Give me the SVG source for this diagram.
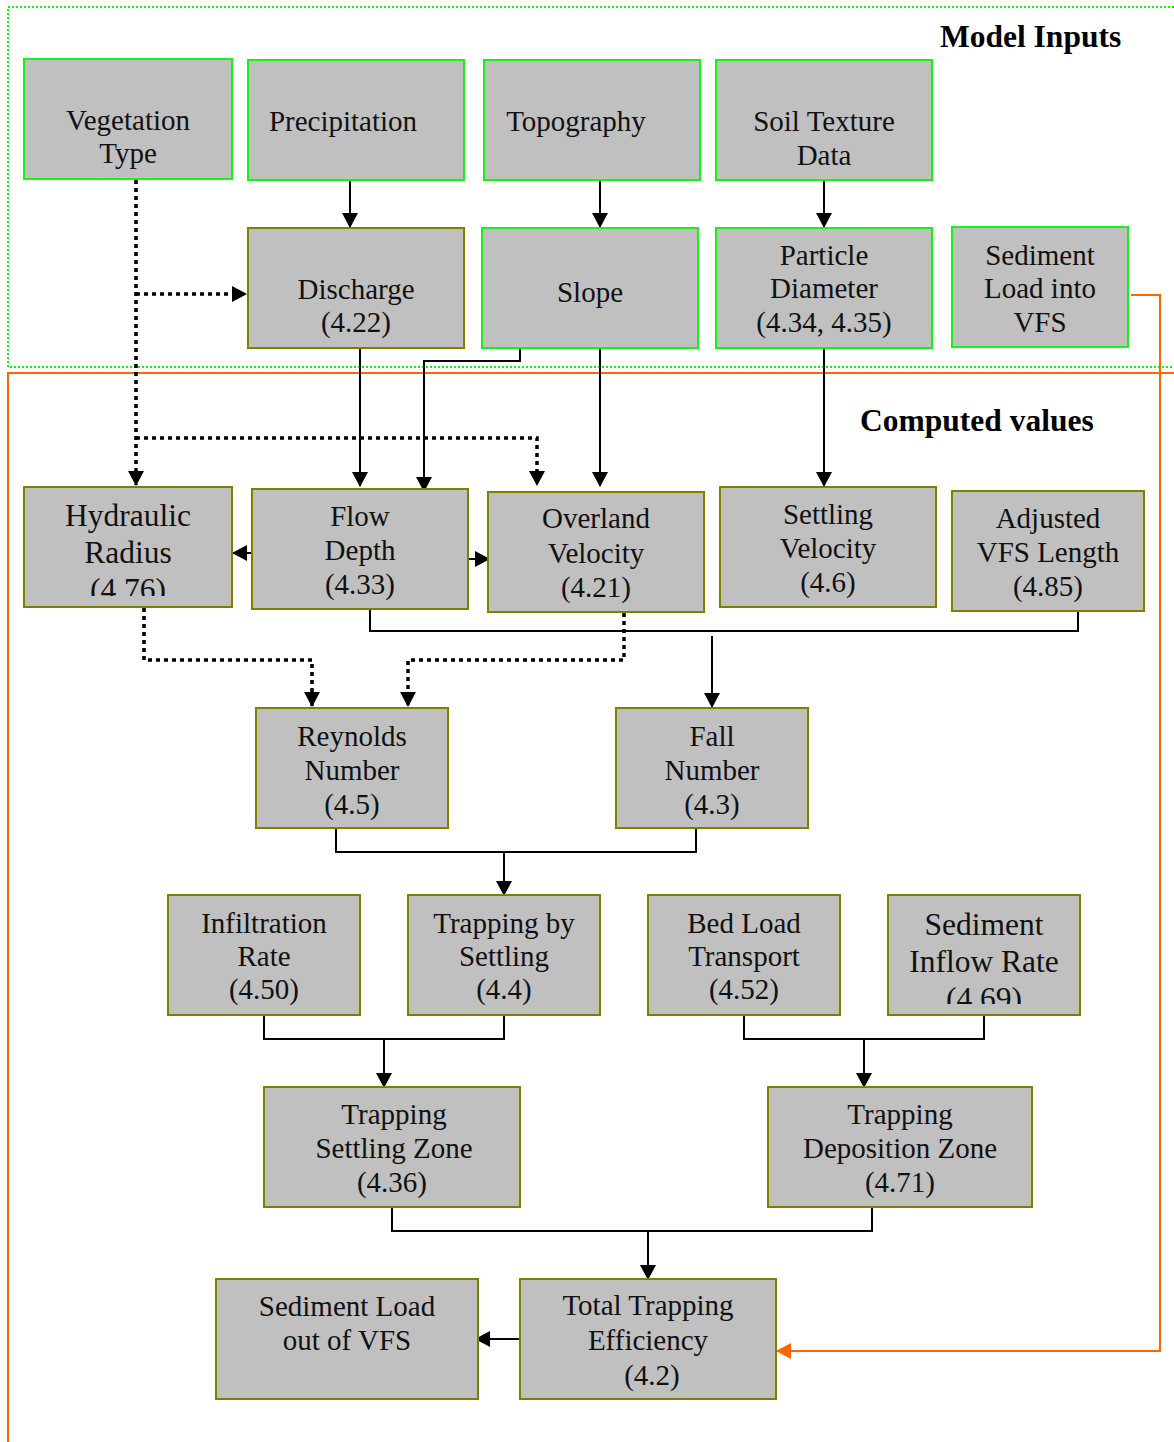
<svg xmlns="http://www.w3.org/2000/svg" width="1174" height="1442" viewBox="0 0 1174 1442">
<style>
  .in { fill: #c0c0c0; stroke: #1cf01c; stroke-width: 2; }
  .cv { fill: #c0c0c0; stroke: #808000; stroke-width: 2; }
  .t { font-family: "Liberation Serif", "Times New Roman", serif; font-size: 29px; fill: #111; text-anchor: middle; }
  .tb { font-size: 31.5px; }
  .title { font-family: "Liberation Serif", "Times New Roman", serif; font-size: 31.5px; font-weight: bold; fill: #000; }
  .ln { fill: none; stroke: #000; stroke-width: 2; }
  .dot { fill: none; stroke: #000; stroke-width: 3.5; stroke-dasharray: 4 4; }
  .or { fill: none; stroke: #ff6600; stroke-width: 2; }
</style>
<defs>
  <marker id="ah" markerUnits="userSpaceOnUse" markerWidth="15" markerHeight="16" viewBox="0 0 15 16" refX="14" refY="8" orient="auto">
    <path d="M0,0 L15,8 L0,16 Z" fill="#000"/>
  </marker>
  <marker id="aho" markerUnits="userSpaceOnUse" markerWidth="15" markerHeight="16" viewBox="0 0 15 16" refX="14" refY="8" orient="auto">
    <path d="M0,0 L15,8 L0,16 Z" fill="#ff6600"/>
  </marker>
  <clipPath id="clipHR"><rect x="24" y="487" width="208" height="109"/></clipPath>
  <clipPath id="clipSI"><rect x="888" y="895" width="192" height="109"/></clipPath>
</defs>
<rect width="1174" height="1442" fill="#fff"/>

<g id="regions">
  <rect x="8" y="7" width="1180" height="360" fill="none" stroke="#00ff00" stroke-width="2" stroke-dasharray="2 2"/>
  <rect x="8" y="373" width="1180" height="1100" fill="none" stroke="#ff6600" stroke-width="2"/>
  <text class="title" x="940" y="47">Model Inputs</text>
  <text class="title" x="860" y="431">Computed values</text>
</g>

<g id="connectors">
  <path class="dot" d="M136,180 V485" marker-end="url(#ah)"/>
  <path class="dot" d="M136,294 H246" marker-end="url(#ah)"/>
  <path class="dot" d="M136,438 H537 V485" marker-end="url(#ah)"/>
  <path class="ln" d="M350,180 V227" marker-end="url(#ah)"/>
  <path class="ln" d="M600,180 V227" marker-end="url(#ah)"/>
  <path class="ln" d="M824,180 V227" marker-end="url(#ah)"/>
  <path class="ln" d="M360,348 V486" marker-end="url(#ah)"/>
  <path class="ln" d="M520,348 V361 H424 V491" marker-end="url(#ah)"/>
  <path class="ln" d="M600,348 V486" marker-end="url(#ah)"/>
  <path class="ln" d="M824,348 V486" marker-end="url(#ah)"/>
  <path class="ln" d="M252,553 H233" marker-end="url(#ah)"/>
  <path class="ln" d="M468,559 H489" marker-end="url(#ah)"/>
  <path class="ln" d="M370,609 V631 H1078 V611"/>
  <path class="ln" d="M712,636 V707" marker-end="url(#ah)"/>
  <path class="dot" d="M144,608 V660 H312 V706" marker-end="url(#ah)"/>
  <path class="dot" d="M624,613 V660 H408 V706" marker-end="url(#ah)"/>
  <path class="ln" d="M336,828 V852 H696 V828"/>
  <path class="ln" d="M504,852 V895" marker-end="url(#ah)"/>
  <path class="ln" d="M264,1015 V1039 H504 V1015"/>
  <path class="ln" d="M384,1039 V1087" marker-end="url(#ah)"/>
  <path class="ln" d="M744,1015 V1039 H984 V1015"/>
  <path class="ln" d="M864,1039 V1087" marker-end="url(#ah)"/>
  <path class="ln" d="M392,1207 V1231 H872 V1207"/>
  <path class="ln" d="M648,1231 V1279" marker-end="url(#ah)"/>
  <path class="ln" d="M520,1339 H476" marker-end="url(#ah)"/>
  <path class="or" d="M1131,295 H1160 V1351 H777" marker-end="url(#aho)"/>
</g>

<g id="vegetation-type">
  <rect class="in" x="24" y="59" width="208" height="120"/>
  <text class="t" x="128" y="130">Vegetation</text>
  <text class="t" x="128" y="163">Type</text>
</g>
<g id="precipitation">
  <rect class="in" x="248" y="60" width="216" height="120"/>
  <text class="t" x="343" y="131">Precipitation</text>
</g>
<g id="topography">
  <rect class="in" x="484" y="60" width="216" height="120"/>
  <text class="t" x="576" y="131">Topography</text>
</g>
<g id="soil-texture-data">
  <rect class="in" x="716" y="60" width="216" height="120"/>
  <text class="t" x="824" y="131">Soil Texture</text>
  <text class="t" x="824" y="165">Data</text>
</g>
<g id="discharge">
  <rect class="cv" x="248" y="228" width="216" height="120"/>
  <text class="t" x="356" y="299">Discharge</text>
  <text class="t" x="356" y="332">(4.22)</text>
</g>
<g id="slope">
  <rect class="in" x="482" y="228" width="216" height="120"/>
  <text class="t" x="590" y="302">Slope</text>
</g>
<g id="particle-diameter">
  <rect class="in" x="716" y="228" width="216" height="120"/>
  <text class="t" x="824" y="265">Particle</text>
  <text class="t" x="824" y="298">Diameter</text>
  <text class="t" x="824" y="332">(4.34, 4.35)</text>
</g>
<g id="sediment-load-into-vfs">
  <rect class="in" x="952" y="227" width="176" height="120"/>
  <text class="t" x="1040" y="265">Sediment</text>
  <text class="t" x="1040" y="298">Load into</text>
  <text class="t" x="1040" y="332">VFS</text>
</g>

<g id="hydraulic-radius">
  <rect class="cv" x="24" y="487" width="208" height="120"/>
  <g clip-path="url(#clipHR)">
    <text class="t tb" x="128" y="526">Hydraulic</text>
    <text class="t tb" x="128" y="563">Radius</text>
    <text class="t tb" x="128" y="600">(4.76)</text>
  </g>
</g>
<g id="flow-depth">
  <rect class="cv" x="252" y="489" width="216" height="120"/>
  <text class="t" x="360" y="526">Flow</text>
  <text class="t" x="360" y="560">Depth</text>
  <text class="t" x="360" y="594">(4.33)</text>
</g>
<g id="overland-velocity">
  <rect class="cv" x="488" y="492" width="216" height="120"/>
  <text class="t" x="596" y="528">Overland</text>
  <text class="t" x="596" y="563">Velocity</text>
  <text class="t" x="596" y="597">(4.21)</text>
</g>
<g id="settling-velocity">
  <rect class="cv" x="720" y="487" width="216" height="120"/>
  <text class="t" x="828" y="524">Settling</text>
  <text class="t" x="828" y="558">Velocity</text>
  <text class="t" x="828" y="592">(4.6)</text>
</g>
<g id="adjusted-vfs-length">
  <rect class="cv" x="952" y="491" width="192" height="120"/>
  <text class="t" x="1048" y="528">Adjusted</text>
  <text class="t" x="1048" y="562">VFS Length</text>
  <text class="t" x="1048" y="596">(4.85)</text>
</g>

<g id="reynolds-number">
  <rect class="cv" x="256" y="708" width="192" height="120"/>
  <text class="t" x="352" y="746">Reynolds</text>
  <text class="t" x="352" y="780">Number</text>
  <text class="t" x="352" y="814">(4.5)</text>
</g>
<g id="fall-number">
  <rect class="cv" x="616" y="708" width="192" height="120"/>
  <text class="t" x="712" y="746">Fall</text>
  <text class="t" x="712" y="780">Number</text>
  <text class="t" x="712" y="814">(4.3)</text>
</g>

<g id="infiltration-rate">
  <rect class="cv" x="168" y="895" width="192" height="120"/>
  <text class="t" x="264" y="933">Infiltration</text>
  <text class="t" x="264" y="966">Rate</text>
  <text class="t" x="264" y="999">(4.50)</text>
</g>
<g id="trapping-by-settling">
  <rect class="cv" x="408" y="895" width="192" height="120"/>
  <text class="t" x="504" y="933">Trapping by</text>
  <text class="t" x="504" y="966">Settling</text>
  <text class="t" x="504" y="999">(4.4)</text>
</g>
<g id="bed-load-transport">
  <rect class="cv" x="648" y="895" width="192" height="120"/>
  <text class="t" x="744" y="933">Bed Load</text>
  <text class="t" x="744" y="966">Transport</text>
  <text class="t" x="744" y="999">(4.52)</text>
</g>
<g id="sediment-inflow-rate">
  <rect class="cv" x="888" y="895" width="192" height="120"/>
  <g clip-path="url(#clipSI)">
    <text class="t tb" x="984" y="935">Sediment</text>
    <text class="t tb" x="984" y="972">Inflow Rate</text>
    <text class="t tb" x="984" y="1009">(4.69)</text>
  </g>
</g>

<g id="trapping-settling-zone">
  <rect class="cv" x="264" y="1087" width="256" height="120"/>
  <text class="t" x="394" y="1124">Trapping</text>
  <text class="t" x="394" y="1158">Settling Zone</text>
  <text class="t" x="392" y="1192">(4.36)</text>
</g>
<g id="trapping-deposition-zone">
  <rect class="cv" x="768" y="1087" width="264" height="120"/>
  <text class="t" x="900" y="1124">Trapping</text>
  <text class="t" x="900" y="1158">Deposition Zone</text>
  <text class="t" x="900" y="1192">(4.71)</text>
</g>

<g id="sediment-load-out-of-vfs">
  <rect class="cv" x="216" y="1279" width="262" height="120"/>
  <text class="t" x="347" y="1316">Sediment Load</text>
  <text class="t" x="347" y="1350">out of VFS</text>
</g>
<g id="total-trapping-efficiency">
  <rect class="cv" x="520" y="1279" width="256" height="120"/>
  <text class="t" x="648" y="1315">Total Trapping</text>
  <text class="t" x="648" y="1350">Efficiency</text>
  <text class="t" x="652" y="1385">(4.2)</text>
</g>
</svg>
